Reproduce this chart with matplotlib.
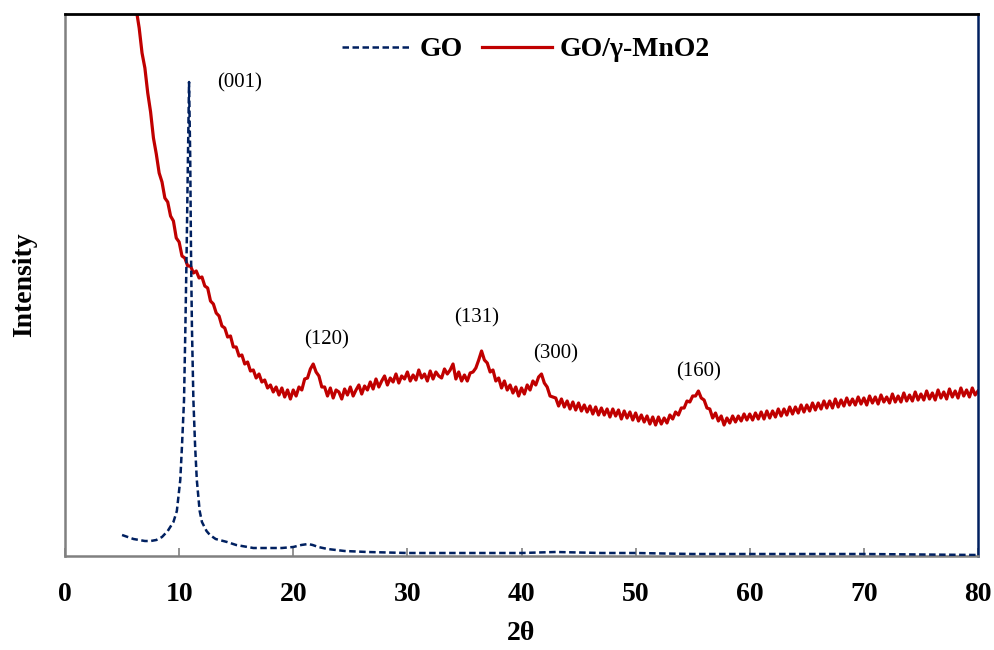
import numpy as np
import matplotlib
matplotlib.use("Agg")
import matplotlib.pyplot as plt

plt.rcParams['font.family'] = ['Liberation Serif', 'DejaVu Serif']

# ---------------- data ----------------
# GO (dashed) : 2theta and intensity (arb. units)
go_x = [5.0, 5.5, 6.0, 6.5, 7.0, 7.5, 8.0, 8.5, 9.0, 9.5, 9.8, 10.1, 10.25, 10.43,
        10.55, 10.66, 10.75, 10.87, 10.97, 11.04, 11.12, 11.25, 11.4, 11.55, 11.8,
        12.0, 12.4, 12.7, 13.2, 14.2, 15.0, 16.5, 18.0, 19.0, 20.0, 20.7, 21.3,
        21.7, 22.2, 23.0, 24.5, 26.5, 30.0, 35.0, 40.0, 43.0, 47.0, 50.0, 55.0,
        60.0, 70.0, 80.0]
go_y = [21, 19, 17, 16, 15, 15, 16, 19, 25, 34, 45, 76, 110, 156,
        230, 306, 380, 474, 400, 306, 230, 156, 110, 76, 45,
        34, 25, 21, 17, 14, 11, 8, 8, 8, 9, 11, 12,
        11, 9, 7, 5, 4, 3, 3, 3, 4, 3, 3, 2,
        2, 2, 1]

# GO/gamma-MnO2 (solid) : scan from 5.5 to 80 deg, step 0.25
mn_start, mn_stop = 5.5, 80.0
mn_y = [640, 610,
        582, 546, 528, 503,
        488, 463, 444, 418,
        402, 383, 374, 358,
        354, 340, 335, 318,
        314, 300, 298, 290,
        290, 283, 285, 278,
        279, 270, 268, 255,
        252, 243, 240, 230,
        228, 219, 220, 209,
        209, 200, 201, 192,
        194, 185, 186, 178,
        182, 174, 176, 168,
        171, 164, 169, 161,
        168, 159, 166, 157,
        166, 160, 169, 166,
        177, 178, 187, 192,
        184, 180, 169, 169,
        160, 168, 158, 166,
        164, 157, 167, 161,
        169, 160, 166, 171,
        162, 170, 166, 174,
        167, 177, 169, 175,
        180, 171, 178, 174,
        182, 173, 180, 177,
        184, 175, 181, 176,
        186, 178, 182, 175,
        185, 177, 184, 180,
        178, 187, 182, 186,
        192, 177, 184, 175,
        181, 175, 183, 184,
        188, 196, 205, 196,
        193, 184, 186, 175,
        178, 168, 175, 166,
        171, 163, 169, 160,
        168, 162, 171, 166,
        175, 171, 179, 182,
        173, 169, 160, 159,
        158, 150, 157, 149,
        155, 147, 154, 146,
        153, 145, 151, 144,
        150, 142, 149, 141,
        148, 141, 147, 139,
        147, 140, 146, 137,
        145, 138, 144, 136,
        143, 135, 141, 134,
        140, 132, 139, 131,
        139, 132, 138, 133,
        141, 137, 144, 141,
        148, 148, 155, 154,
        160, 160, 165, 158,
        156, 148, 147, 138,
        143, 135, 140, 131,
        138, 133, 140, 134,
        140, 135, 142, 136,
        142, 136, 143, 137,
        144, 137, 145, 138,
        145, 139, 147, 140,
        147, 141, 149, 142,
        149, 143, 151, 144,
        151, 145, 153, 146,
        153, 147, 155, 148,
        155, 148, 157, 149,
        156, 150, 158, 151,
        157, 151, 159, 152,
        158, 151, 160, 153,
        159, 152, 161, 154,
        159, 153, 162, 154,
        160, 154, 163, 155,
        161, 155, 164, 156,
        162, 156, 165, 157,
        163, 156, 166, 158,
        164, 157, 167, 159,
        165, 158, 168, 160,
        166, 159, 168, 161,
        165]
mn_x = np.linspace(mn_start, mn_stop, len(mn_y))

# peak labels
peak_labels = ["(001)", "(120)", "(131)", "(300)", "(160)"]
peak_x = [15.3, 22.9, 36.1, 43.0, 55.5]
peak_y = [473, 216, 238, 202, 184]

x_ticks = [0, 10, 20, 30, 40, 50, 60, 70, 80]

navy = "#002060"
red = "#C00000"

# ---------------- figure ----------------
fig = plt.figure(figsize=(9.95, 6.5), dpi=100)
ax = fig.add_axes([65/995, 94/650, 913/995, 542/650])

ax.plot(mn_x, mn_y, color=red, lw=2.3, label="GO/\u03b3-MnO2", zorder=2)
ax.plot(go_x, go_y, color=navy, lw=1.8, linestyle=(0, (2.6, 1.4)),
        label="GO", zorder=3)

for t, xx, yy in zip(peak_labels, peak_x, peak_y):
    ax.text(xx, yy, t, fontsize=15, ha='center', va='center', color='black')

ax.set_xlim(0, 80)
ax.set_ylim(0, 542)
ax.set_xticks(x_ticks)
ax.set_xticklabels([str(v) for v in x_ticks], fontsize=20, fontweight='bold')
ax.set_yticks([])
ax.tick_params(axis='x', direction='in', length=6, width=1.2, color='#808080', pad=19)

ax.set_xlabel("2\u03b8", fontsize=20, fontweight='bold', labelpad=10)
ax.set_ylabel("Intensity", fontsize=20, fontweight='bold', labelpad=20)

for s in ['left', 'bottom']:
    ax.spines[s].set_color('#808080')
    ax.spines[s].set_linewidth(1.8)
ax.spines['top'].set_color('black')
ax.spines['top'].set_linewidth(2.0)
ax.spines['right'].set_color(navy)
ax.spines['right'].set_linewidth(1.8)

handles, labels = ax.get_legend_handles_labels()
leg = ax.legend(handles[::-1], labels[::-1], ncol=2, loc='center',
                bbox_to_anchor=(0.505, 0.934), frameon=False,
                prop={'size': 20, 'weight': 'bold'},
                handlelength=2.5, handletextpad=0.3, columnspacing=0.7)

fig.savefig("out.png", dpi=100)
